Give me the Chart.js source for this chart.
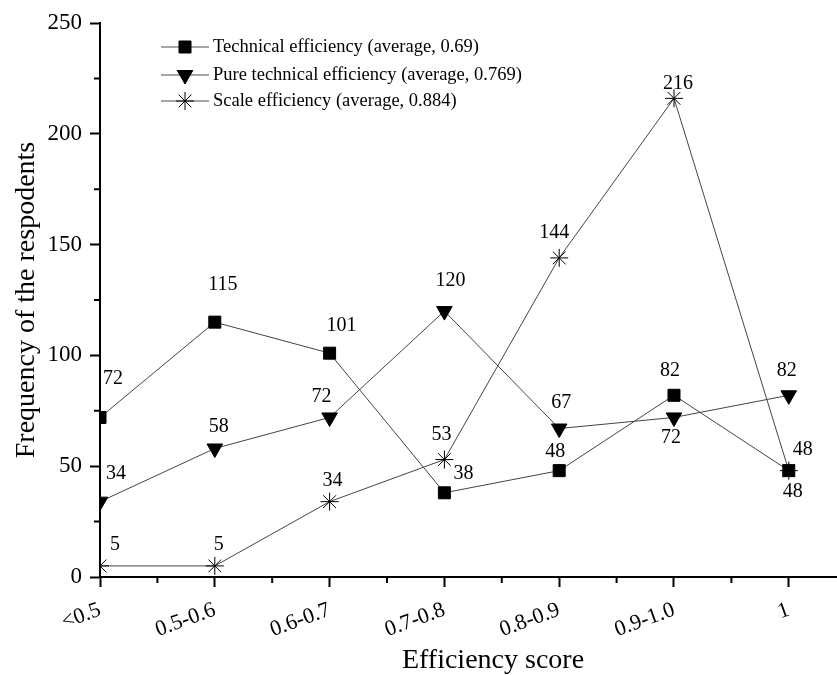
<!DOCTYPE html>
<html>
<head>
<meta charset="utf-8">
<script src="https://cdn.jsdelivr.net/npm/chart.js@4.4.0/dist/chart.umd.min.js"></script>
<style>
    html, body { margin: 0; padding: 0; background: #fff; }
</style>
</head>
<body>
<canvas id="chart" width="837" height="675"></canvas>
<script>
const categories = ['<0.5', '0.5-0.6', '0.6-0.7', '0.7-0.8', '0.8-0.9', '0.9-1.0', '1'];
const technical = [72, 115, 101, 38, 48, 82, 48];
const pureTechnical = [34, 58, 72, 120, 67, 72, 82];
const scaleEfficiency = [5, 5, 34, 53, 144, 216, 48];
const seriesNames = [
    'Technical efficiency (average, 0.69)',
    'Pure technical efficiency (average, 0.769)',
    'Scale efficiency (average, 0.884)'
];
const yTicks = [0, 50, 100, 150, 200, 250];
const xTitle = 'Efficiency score';
const yTitle = 'Frequency of the respodents';

// where each value label sits relative to its point (px)
const labelOffsets = [
    [[13, -39], [8, -37], [12, -27], [19, -19], [-4, -19], [-4, -25], [4, 21]],
    [[16, -28], [4, -22], [-8, -21], [6, -30], [2, -26], [-3, 20], [-2, -25]],
    [[15, -21], [4, -21], [3, -21], [-3, -25], [-5, -25], [4, -15], [14, -21]]
];

const serif = "'Liberation Serif', 'Times New Roman', serif";
const lineColor = '#444';

function series(values) {
    return values.map((v, i) => ({ x: i, y: v }));
}

const valueLabels = {
    id: 'valueLabels',
    afterDatasetsDraw(chart) {
        const ctx = chart.ctx;
        ctx.save();
        ctx.font = '20px ' + serif;
        ctx.fillStyle = '#000';
        ctx.textAlign = 'center';
        ctx.textBaseline = 'middle';
        chart.data.datasets.forEach((ds, d) => {
            chart.getDatasetMeta(d).data.forEach((pt, i) => {
                const off = labelOffsets[d][i];
                ctx.fillText(String(ds.data[i].y), pt.x + off[0], pt.y + off[1]);
            });
        });
        ctx.restore();
    }
};

// minor ticks + the x title (sits a bit right of the plot centre in the original)
const axisExtras = {
    id: 'axisExtras',
    afterDraw(chart) {
        const ctx = chart.ctx;
        const x = chart.scales.x, y = chart.scales.y;
        ctx.save();
        ctx.strokeStyle = '#000';
        ctx.lineWidth = 2;
        ctx.beginPath();
        for (let v = 0.5; v <= x.max; v += 1) {
            const px = x.getPixelForValue(v);
            ctx.moveTo(px, x.top);
            ctx.lineTo(px, x.top + 6);
        }
        for (let v = 25; v < y.max; v += 50) {
            const py = y.getPixelForValue(v);
            ctx.moveTo(y.right, py);
            ctx.lineTo(y.right - 6, py);
        }
        ctx.stroke();

        ctx.fillStyle = '#000';
        ctx.font = '28px ' + serif;
        ctx.textAlign = 'center';
        ctx.textBaseline = 'middle';
        ctx.fillText(xTitle, 493, 661);
        ctx.restore();
    }
};

const boxLegend = {
    id: 'boxLegend',
    afterDraw(chart) {
        const ctx = chart.ctx;
        const rows = [47, 75, 101];
        ctx.save();
        chart.data.datasets.forEach((ds, d) => {
            const yy = rows[d];
            ctx.strokeStyle = '#888';
            ctx.lineWidth = 1.5;
            ctx.beginPath();
            ctx.moveTo(161, yy);
            ctx.lineTo(209, yy);
            ctx.stroke();
            ctx.fillStyle = '#000';
            ctx.strokeStyle = '#000';
            ctx.lineWidth = 1;
            Chart.helpers.drawPoint(ctx, {
                pointStyle: ds.pointStyle,
                radius: ds.pointRadius,
                rotation: ds.pointRotation || 0,
                borderWidth: 1
            }, 185, yy);
            ctx.font = '18.5px ' + serif;
            ctx.textAlign = 'left';
            ctx.textBaseline = 'middle';
            ctx.fillText(ds.label, 213, yy);
        });
        ctx.restore();
    }
};

function makeDataset(label, values, style, radius, rotation) {
    return {
        label: label,
        data: series(values),
        borderColor: lineColor,
        borderWidth: 1,
        pointStyle: style,
        pointRadius: radius,
        pointRotation: rotation,
        pointBackgroundColor: '#000',
        pointBorderColor: '#000',
        pointBorderWidth: 1,
        tension: 0
    };
}

new Chart(document.getElementById('chart'), {
    type: 'line',
    data: {
        datasets: [
            makeDataset(seriesNames[0], technical, 'rect', 8.5, 0),
            makeDataset(seriesNames[1], pureTechnical, 'triangle', 9, 180),
            makeDataset(seriesNames[2], scaleEfficiency, 'star', 9, 0)
        ]
    },
    options: {
        responsive: false,
        animation: false,
        layout: { autoPadding: false, padding: { top: 23, right: 0, bottom: 0, left: 0 } },
        plugins: { legend: { display: false }, tooltip: { enabled: false } },
        scales: {
            x: {
                type: 'linear',
                min: 0,
                max: 6.42,
                afterBuildTicks: s => { s.ticks = categories.map((c, i) => ({ value: i })); },
                afterFit: s => { s.height = 98; },
                border: { display: true, color: '#000', width: 2 },
                grid: { drawOnChartArea: false, drawTicks: true, tickLength: 10, tickColor: '#000', tickWidth: 2 },
                ticks: {
                    autoSkip: false,
                    minRotation: 20,
                    maxRotation: 20,
                    padding: 10,
                    color: '#000',
                    font: { family: serif, size: 22 },
                    callback: v => categories[Math.round(v)]
                },
                title: { display: false }
            },
            y: {
                min: 0,
                max: 250,
                afterBuildTicks: s => { s.ticks = yTicks.map(v => ({ value: v })); },
                afterFit: s => { s.width = 100; },
                border: { display: true, color: '#000', width: 2 },
                grid: { drawOnChartArea: false, drawTicks: true, tickLength: 10, tickColor: '#000', tickWidth: 2 },
                ticks: {
                    padding: 8,
                    color: '#000',
                    font: { family: serif, size: 23 }
                },
                title: {
                    display: true,
                    text: yTitle,
                    color: '#000',
                    font: { family: serif, size: 28 },
                    padding: { top: 10, bottom: 0 }
                }
            }
        }
    },
    plugins: [valueLabels, axisExtras, boxLegend]
});
</script>
</body>
</html>
